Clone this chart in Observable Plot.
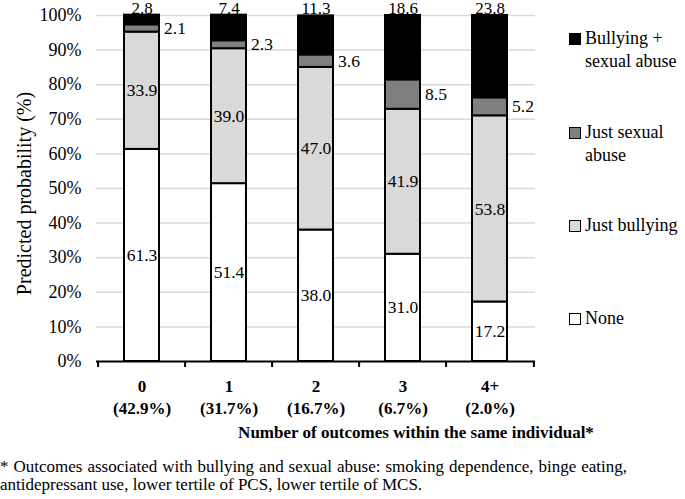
<!DOCTYPE html>
<html>
<head>
<meta charset="utf-8">
<script src="https://cdn.jsdelivr.net/npm/d3@7"></script>
<script src="https://cdn.jsdelivr.net/npm/@observablehq/plot@0.6"></script>
<style>
  body { margin: 0; background: #fff; color: #000; font-family: 'Liberation Serif', 'Times New Roman', serif; }
  #wrap { position: relative; width: 685px; height: 499px; overflow: hidden; }
  .leg { position: absolute; left: 569px; display: flex; font-size: 18px; line-height: 23px; white-space: nowrap; }
  .sw { width: 10px; height: 10px; border: 1px solid #000; margin-top: 6px; margin-right: 4px; flex: none; box-sizing: content-box; }
  #xtitle { position: absolute; left: 216px; width: 400px; top: 423px; text-align: center; font-weight: bold; font-size: 17px; line-height: 20px; white-space: nowrap; }
  #foot { position: absolute; left: 0; top: 458px; font-size: 17px; line-height: 18px; }
  #foot .l1 { width: 627px; text-align: justify; text-align-last: justify; white-space: nowrap; }
</style>
</head>
<body>
<div id="wrap" style="font-family:'Liberation Serif'"></div>
<script>
// ---- data ----
const categories = ["0", "1", "2", "3", "4+"];
const categoryShares = ["(42.9%)", "(31.7%)", "(16.7%)", "(6.7%)", "(2.0%)"];
const groups = ["None", "Just bullying", "Just sexual abuse", "Bullying + sexual abuse"];
const groupColors = ["#ffffff", "#d9d9d9", "#7f7f7f", "#000000"];
const valuesNone = [61.3, 51.4, 38.0, 31.0, 17.2];
const valuesJustBullying = [33.9, 39.0, 47.0, 41.9, 53.8];
const valuesJustSexualAbuse = [2.1, 2.3, 3.6, 8.5, 5.2];
const valuesBoth = [2.8, 7.4, 11.3, 18.6, 23.8];
const yTicks = [0, 10, 20, 30, 40, 50, 60, 70, 80, 90, 100];
const yTitle = "Predicted probability (%)";
const xTitle = "Number of outcomes within the same individual*";
const legendLines = [["Bullying +", "sexual abuse"], ["Just sexual", "abuse"], ["Just bullying"], ["None"]];
const footLine1 = "* Outcomes associated with bullying and sexual abuse: smoking dependence, binge eating,";
const footLine2 = "antidepressant use, lower tertile of PCS, lower tertile of MCS.";

const series = [valuesNone, valuesJustBullying, valuesJustSexualAbuse, valuesBoth];
const rows = categories.flatMap((c, i) => groups.map((g, j) => ({category: c, group: g, value: series[j][i]})));

const FONT = "'Liberation Serif'";
const W = 685, H = 445, ML = 96, MR = 150;
const step = (W - ML - MR) / categories.length;

const fmt = v => v.toFixed(1);

const chart = Plot.plot({
  width: W,
  height: H,
  marginLeft: ML,
  marginRight: MR,
  marginTop: 15,
  marginBottom: 84,
  style: {fontFamily: FONT, fontSize: "17px", color: "#000", background: "#fff", overflow: "visible"},
  x: {domain: categories, paddingInner: 0.6, paddingOuter: 0.3},
  y: {domain: [0, 100]},
  color: {domain: groups, range: groupColors},
  marks: [
    Plot.ruleY(yTicks.slice(1), {stroke: "#d9d9d9", strokeWidth: 1.5}),
    Plot.barY(rows, {x: "category", y: "value", fill: "group", stroke: "#000", strokeWidth: 2}),
    Plot.ruleY([0], {stroke: "#000", strokeWidth: 2}),
    Plot.ruleX(categories, {x: d => d, y1: 0, y2: 0, insetBottom: -6, dx: -step / 2, stroke: "#000", strokeWidth: 2}),
    Plot.ruleX(categories.slice(-1), {x: d => d, y1: 0, y2: 0, insetBottom: -6, dx: step / 2, stroke: "#000", strokeWidth: 2}),
    Plot.axisY({ticks: yTicks, tickFormat: d => d + "%", tickSize: 0, tickPadding: 15, fontSize: 18, fontFamily: FONT, label: null}),
    Plot.text([yTitle], {frameAnchor: "left", rotate: -90, textAnchor: "middle", lineAnchor: "middle", dx: -72, dy: 5, fontSize: 20, fontFamily: FONT}),
    Plot.axisX({tickSize: 0, tickPadding: 15, fontWeight: "bold", fontSize: 17, fontFamily: FONT, lineHeight: 1.3,
      tickFormat: d => d + "\n" + categoryShares[categories.indexOf(d)], label: null}),
    Plot.text(rows, Plot.stackY({x: "category", y: "value", fontSize: 17.5, fontFamily: FONT,
      text: d => (d.group === "None" || d.group === "Just bullying") ? fmt(d.value) : null})),
    Plot.text(rows, Plot.stackY({x: "category", y: "value", fontSize: 17.5, fontFamily: FONT, textAnchor: "start", dx: 22,
      text: d => d.group === "Just sexual abuse" ? fmt(d.value) : null})),
    Plot.text(rows, Plot.stackY2({x: "category", y: "value", fontSize: 17, fontFamily: FONT, lineAnchor: "bottom", dy: -1.5,
      text: d => d.group === "Bullying + sexual abuse" ? fmt(d.value) : null}))
  ]
});

const wrap = document.getElementById("wrap");
wrap.appendChild(chart);

const legendTops = [26.5, 120.5, 213.5, 306.5];
groups.slice().reverse().forEach((g, k) => {
  const j = groups.indexOf(g);
  const div = document.createElement("div");
  div.className = "leg";
  div.style.top = legendTops[k] + "px";
  div.style.fontFamily = FONT;
  const sw = document.createElement("div");
  sw.className = "sw";
  sw.style.background = groupColors[j];
  const txt = document.createElement("div");
  txt.innerHTML = legendLines[k].join("<br>");
  div.appendChild(sw);
  div.appendChild(txt);
  wrap.appendChild(div);
});

const xt = document.createElement("div");
xt.id = "xtitle";
xt.style.fontFamily = FONT;
xt.textContent = xTitle;
wrap.appendChild(xt);

const foot = document.createElement("div");
foot.id = "foot";
foot.style.fontFamily = FONT;
const l1 = document.createElement("div"); l1.className = "l1"; l1.textContent = footLine1;
const l2 = document.createElement("div"); l2.textContent = footLine2;
foot.appendChild(l1); foot.appendChild(l2);
wrap.appendChild(foot);
</script>
</body>
</html>
